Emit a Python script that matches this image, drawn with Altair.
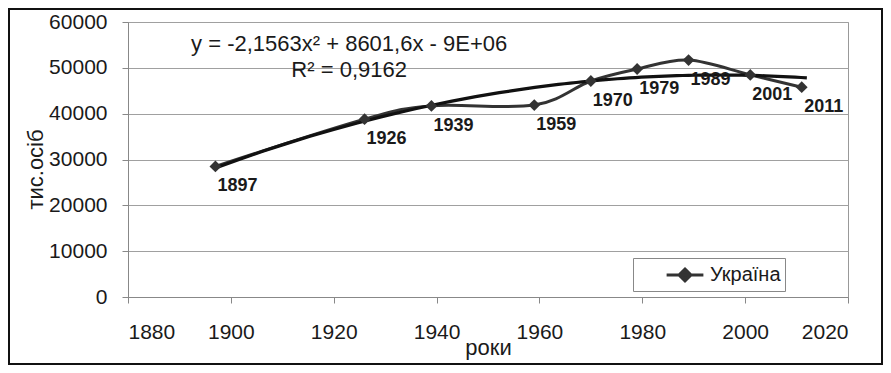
import altair as alt
import pandas as pd

# data
years = [1897, 1926, 1939, 1959, 1970, 1979, 1989, 2001, 2011]
population = [28500, 38800, 41700, 41870, 47130, 49750, 51700, 48460, 45780]
series_name = "Україна"

x_ticks = [1880, 1900, 1920, 1940, 1960, 1980, 2000, 2020]
y_ticks = [0, 10000, 20000, 30000, 40000, 50000, 60000]

eq_texts = ["y = -2,1563x² + 8601,6x - 9E+06", "R² = 0,9162"]
eq_years = [1923, 1923]
eq_values = [55200, 49600]

FONT = "Liberation Sans"

df = pd.DataFrame({"year": years, "value": population, "series": [series_name] * len(years)})
eq_df = pd.DataFrame({"year": eq_years, "value": eq_values, "label": eq_texts})

x_enc = alt.X(
    "year:Q",
    scale=alt.Scale(domain=[1880, 2020], nice=False, zero=False),
    axis=alt.Axis(
        values=x_ticks, format="d", title="роки", grid=False,
        tickSize=6, labelPadding=18, labelFontSize=21,
        titleFontSize=22, titleFontWeight="normal", titleY=40, titleBaseline="top",
    ),
)
y_enc = alt.Y(
    "value:Q",
    scale=alt.Scale(domain=[0, 60000], nice=False),
    axis=alt.Axis(
        values=y_ticks, format="d", title="тис.осіб", grid=True,
        tickSize=6, labelPadding=15, labelFontSize=21,
        titleFontSize=22, titleFontWeight="normal", titleAngle=270,
        titleX=-86, titleY=147, titleBaseline="alphabetic",
    ),
)

color_enc = alt.Color(
    "series:N",
    scale=alt.Scale(domain=[series_name], range=["#333333"]),
    legend=alt.Legend(
        title=None, orient="none", legendX=505, legendY=236,
        direction="vertical", padding=4, strokeColor="#888888", fillColor="white",
        symbolType="M-1.6,0L1.6,0M0,-0.52L0.52,0L0,0.52L-0.52,0Z",
        symbolSize=529, symbolStrokeWidth=3, symbolFillColor="#333333",
        symbolStrokeColor="#333333", symbolOffset=35, labelOffset=12,
        labelFontSize=20, labelFont=FONT, labelColor="#1a1a1a",
        labelExpr="datum.label + '\u00a0\u00a0\u00a0\u00a0'",
    ),
)

base = alt.Chart(df)

line = base.mark_line(interpolate="cardinal", strokeWidth=3).encode(x=x_enc, y=y_enc, color=color_enc)

trend = (
    base.transform_regression("year", "value", method="poly", order=2, extent=[1897, 2012])
    .mark_line(color="#111111", strokeWidth=3.2)
    .encode(x="year:Q", y="value:Q")
)

points = base.mark_point(shape="diamond", filled=True, size=140, opacity=1).encode(
    x="year:Q", y="value:Q", color=color_enc
)

labels = base.mark_text(
    dx=22, dy=20, fontSize=18, fontWeight="bold", font=FONT, color="#1a1a1a"
).encode(x="year:Q", y="value:Q", text=alt.Text("year:Q", format="d"))

eq = alt.Chart(eq_df).mark_text(fontSize=22, font=FONT, color="#1a1a1a").encode(
    x="year:Q", y="value:Q", text="label:N"
)

frame = alt.Chart(alt.Data(values=[{"f": 1}])).mark_rect(
    fillOpacity=0, stroke="#111111", strokeWidth=2
).encode(x=alt.value(-119), x2=alt.value(754), y=alt.value(-13), y2=alt.value(342))

chart = (
    alt.layer(line, trend, points, labels, eq, frame)
    .properties(
        width=720, height=275,
        autosize=alt.AutoSizeParams(type="none"),
        padding={"left": 120, "top": 14, "right": 35, "bottom": 68},
    )
    .configure_view(stroke="#999999", strokeWidth=1)
    .configure_axis(
        domainColor="#888888", tickColor="#888888", gridColor="#a0a0a0",
        labelFont=FONT, titleFont=FONT, labelColor="#1a1a1a", titleColor="#1a1a1a",
    )
)

chart.save("out.html", embed_options={"renderer": "svg", "actions": False})
